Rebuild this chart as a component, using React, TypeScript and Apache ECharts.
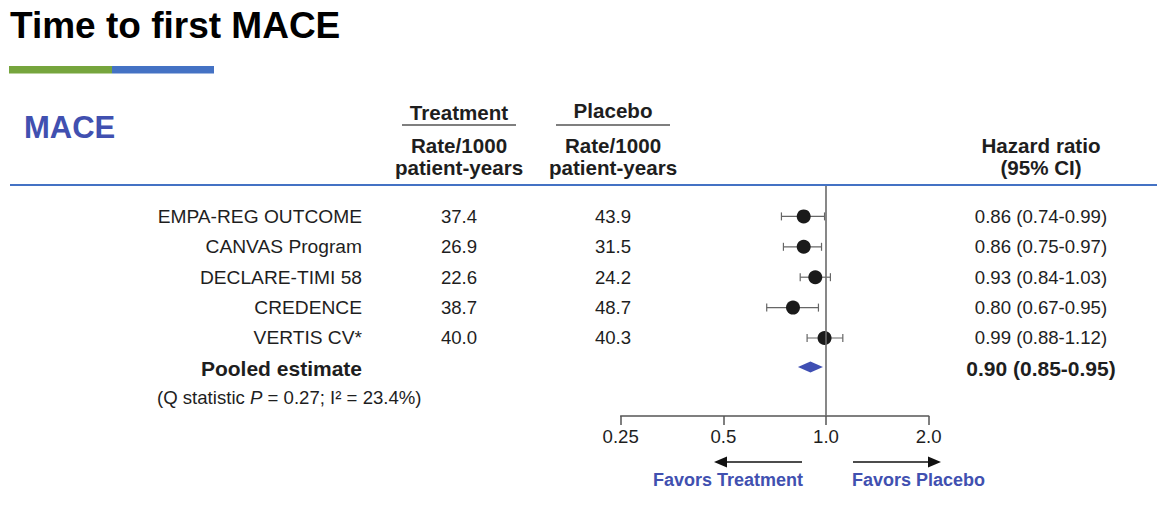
import React, { useEffect, useRef } from 'react';
import * as echarts from 'echarts';

const studies = ['EMPA-REG OUTCOME', 'CANVAS Program', 'DECLARE-TIMI 58', 'CREDENCE', 'VERTIS CV*'];
const treatmentRates = ['37.4', '26.9', '22.6', '38.7', '40.0'];
const placeboRates = ['43.9', '31.5', '24.2', '48.7', '40.3'];
const hazardRatios = [0.86, 0.86, 0.93, 0.80, 0.99];
const ciLower = [0.74, 0.75, 0.84, 0.67, 0.88];
const ciUpper = [0.99, 0.97, 1.03, 0.95, 1.12];
const pooledLabel = 'Pooled estimate';
const pooledHR = [0.90];
const pooledLower = [0.85];
const pooledUpper = [0.95];
const tickValues = [0.25, 0.5, 1, 2];
const tickLabels = ['0.25', '0.5', '1.0', '2.0'];

const FONT = '"Liberation Sans", Arial, Helvetica, sans-serif';
const TEXT = '#1e1e1e';
const BLUE_TXT = '#4150b0';
const ROW_FS = 18.6;

const fmtCI = (h: number, l: number, u: number) => `${h.toFixed(2)} (${l.toFixed(2)}-${u.toFixed(2)})`;

function textSeries(
  id: string,
  x: number,
  items: string[],
  rowStart: number,
  align: 'left' | 'center',
  bold = false,
  fs = ROW_FS
) {
  return {
    id,
    type: 'scatter',
    xAxisIndex: 1,
    yAxisIndex: 1,
    symbolSize: 0,
    silent: true,
    itemStyle: { color: 'transparent', opacity: 1 },
    data: items.map((t, i) => ({ name: t, value: [x, rowStart + i] })),
    label: {
      show: true,
      formatter: '{b}',
      position: align === 'left' ? 'left' : 'inside',
      distance: 0,
      color: TEXT,
      fontFamily: FONT,
      fontSize: fs,
      fontWeight: bold ? 'bold' : 'normal',
    },
  };
}

export default function App() {
  const ref = useRef<HTMLDivElement>(null);
  useEffect(() => {
    const chart = echarts.init(ref.current!, null, { renderer: 'svg' });
    const yRange = { min: -1, max: 6.566 };
    const option: any = {
      animation: false,
      backgroundColor: '#ffffff',
      grid: [
        { left: 620.7, top: 186, width: 308, height: 230 },
        { left: 0, top: 186, width: 1171, height: 230 },
      ],
      xAxis: [
        {
          type: 'log',
          logBase: 2,
          min: 0.25,
          max: 2,
          gridIndex: 0,
          axisLine: { show: true, onZero: false, lineStyle: { color: '#555', width: 1.5 } },
          axisTick: { show: true, length: 9, lineStyle: { color: '#555', width: 1.5 } },
          splitLine: { show: false },
          axisLabel: {
            margin: 11,
            color: TEXT,
            fontFamily: FONT,
            fontSize: ROW_FS,
            formatter: (v: number) => {
              let best = 0;
              tickValues.forEach((t, i) => {
                if (Math.abs(Math.log(t) - Math.log(v)) < Math.abs(Math.log(tickValues[best]) - Math.log(v))) best = i;
              });
              return tickLabels[best];
            },
          },
        },
        { type: 'value', min: 0, max: 1171, gridIndex: 1, show: false },
      ],
      yAxis: [
        { type: 'value', gridIndex: 0, inverse: true, show: false, ...yRange },
        { type: 'value', gridIndex: 1, inverse: true, show: false, ...yRange },
      ],
      series: [
        {
          type: 'custom',
          xAxisIndex: 0,
          yAxisIndex: 0,
          silent: true,
          encode: { x: [0, 1], y: 2 },
          data: hazardRatios.map((_, i) => [ciLower[i], ciUpper[i], i]),
          renderItem: (params: any, api: any) => {
            const row = api.value(2);
            const a = api.coord([api.value(0), row]);
            const b = api.coord([api.value(1), row]);
            const st = { stroke: '#666', lineWidth: 1.2 };
            const cap = 4;
            return {
              type: 'group',
              children: [
                { type: 'line', shape: { x1: a[0], y1: a[1], x2: b[0], y2: b[1] }, style: st },
                { type: 'line', shape: { x1: a[0], y1: a[1] - cap, x2: a[0], y2: a[1] + cap }, style: st },
                { type: 'line', shape: { x1: b[0], y1: b[1] - cap, x2: b[0], y2: b[1] + cap }, style: st },
              ],
            };
          },
        },
        {
          type: 'scatter',
          xAxisIndex: 0,
          yAxisIndex: 0,
          silent: true,
          symbol: 'circle',
          symbolSize: 14,
          itemStyle: { color: '#1a1a1a', opacity: 1 },
          data: hazardRatios.map((h, i) => [h, i]),
          markLine: {
            silent: true,
            symbol: ['none', 'none'],
            label: { show: false },
            lineStyle: { color: '#6a6a6a', width: 1.6, type: 'solid', opacity: 1 },
            data: [{ xAxis: 1 }],
          },
          z: 3,
        },
        {
          type: 'scatter',
          xAxisIndex: 0,
          yAxisIndex: 0,
          silent: true,
          symbol: 'diamond',
          symbolSize: [25, 11],
          itemStyle: { color: '#3f4fb3', opacity: 1 },
          data: pooledHR.map((h) => [h, studies.length - 0.05]),
          z: 3,
        },
        textSeries('names', 362, studies, 0, 'left', false, 19.2),
        textSeries('pooledName', 362, [pooledLabel], studies.length, 'left', true, 21),
        textSeries('trt', 459, treatmentRates, 0, 'center'),
        textSeries('pbo', 613, placeboRates, 0, 'center'),
        textSeries(
          'hr',
          1041,
          hazardRatios.map((h, i) => fmtCI(h, ciLower[i], ciUpper[i])),
          0,
          'center'
        ),
        textSeries(
          'pooledHr',
          1041,
          pooledHR.map((h, i) => fmtCI(h, pooledLower[i], pooledUpper[i])),
          studies.length,
          'center',
          true,
          21
        ),
      ],
      graphic: [
        {
          type: 'text',
          x: 10,
          y: 25,
          style: { text: 'Time to first MACE', fill: '#000', font: `bold 37px ${FONT}`, align: 'left', verticalAlign: 'middle', textAlign: 'left', textVerticalAlign: 'middle' },
        },
        { type: 'rect', shape: { x: 9, y: 66, width: 103, height: 7.5 }, style: { fill: '#76a53d' } },
        { type: 'rect', shape: { x: 112, y: 66, width: 102, height: 7.5 }, style: { fill: '#4472c4' } },
        {
          type: 'text',
          x: 24,
          y: 127,
          style: { text: 'MACE', fill: BLUE_TXT, font: `bold 31px ${FONT}`, align: 'left', verticalAlign: 'middle', textAlign: 'left', textVerticalAlign: 'middle' },
        },
        {
          type: 'text',
          x: 459,
          y: 112,
          style: { text: 'Treatment', fill: TEXT, font: `bold 20.6px ${FONT}`, align: 'center', verticalAlign: 'middle', textAlign: 'center', textVerticalAlign: 'middle' },
        },
        { type: 'line', shape: { x1: 402, y1: 125, x2: 516, y2: 125 }, style: { stroke: '#555', lineWidth: 1.5 } },
        {
          type: 'text',
          x: 613,
          y: 110,
          style: { text: 'Placebo', fill: TEXT, font: `bold 20.6px ${FONT}`, align: 'center', verticalAlign: 'middle', textAlign: 'center', textVerticalAlign: 'middle' },
        },
        { type: 'line', shape: { x1: 556, y1: 125, x2: 670, y2: 125 }, style: { stroke: '#555', lineWidth: 1.5 } },
        ...[459, 613].flatMap((cx) => [
          {
            type: 'text',
            x: cx,
            y: 145,
            style: { text: 'Rate/1000', fill: TEXT, font: `bold 20.6px ${FONT}`, align: 'center', verticalAlign: 'middle', textAlign: 'center', textVerticalAlign: 'middle' },
          },
          {
            type: 'text',
            x: cx,
            y: 167,
            style: { text: 'patient-years', fill: TEXT, font: `bold 20.6px ${FONT}`, align: 'center', verticalAlign: 'middle', textAlign: 'center', textVerticalAlign: 'middle' },
          },
        ]),
        {
          type: 'text',
          x: 1041,
          y: 145,
          style: { text: 'Hazard ratio', fill: TEXT, font: `bold 20.6px ${FONT}`, align: 'center', verticalAlign: 'middle', textAlign: 'center', textVerticalAlign: 'middle' },
        },
        {
          type: 'text',
          x: 1041,
          y: 167,
          style: { text: '(95% CI)', fill: TEXT, font: `bold 20.6px ${FONT}`, align: 'center', verticalAlign: 'middle', textAlign: 'center', textVerticalAlign: 'middle' },
        },
        { type: 'line', shape: { x1: 10, y1: 185, x2: 1157, y2: 185 }, style: { stroke: '#4472c4', lineWidth: 2 } },
        {
          type: 'text',
          x: 157,
          y: 397,
          style: {
            text: '(Q statistic {i|P} = 0.27; I² = 23.4%)',
            fill: TEXT,
            font: `${ROW_FS}px ${FONT}`,
            align: 'left',
            verticalAlign: 'middle',
            textAlign: 'left',
            textVerticalAlign: 'middle',
            rich: { i: { fontStyle: 'italic', fontSize: ROW_FS, fontFamily: FONT, fill: TEXT } },
          },
        },
        // arrows
        { type: 'line', shape: { x1: 802, y1: 462, x2: 724, y2: 462 }, style: { stroke: '#111', lineWidth: 1.5 } },
        { type: 'polygon', shape: { points: [[714, 462], [727, 456.5], [727, 467.5]] }, style: { fill: '#111' } },
        { type: 'line', shape: { x1: 853, y1: 462, x2: 931, y2: 462 }, style: { stroke: '#111', lineWidth: 1.5 } },
        { type: 'polygon', shape: { points: [[941, 462], [928, 456.5], [928, 467.5]] }, style: { fill: '#111' } },
        {
          type: 'text',
          x: 803,
          y: 480,
          style: { text: 'Favors Treatment', fill: BLUE_TXT, font: `bold 18px ${FONT}`, align: 'right', verticalAlign: 'middle', textAlign: 'right', textVerticalAlign: 'middle' },
        },
        {
          type: 'text',
          x: 852,
          y: 480,
          style: { text: 'Favors Placebo', fill: BLUE_TXT, font: `bold 18px ${FONT}`, align: 'left', verticalAlign: 'middle', textAlign: 'left', textVerticalAlign: 'middle' },
        },
      ],
    };
    chart.setOption(option);
    return () => chart.dispose();
  }, []);
  return (
    <div
      ref={ref}
      style={{ position: 'absolute', left: 0, top: 0, width: 1171, height: 513, background: '#fff' }}
    />
  );
}
